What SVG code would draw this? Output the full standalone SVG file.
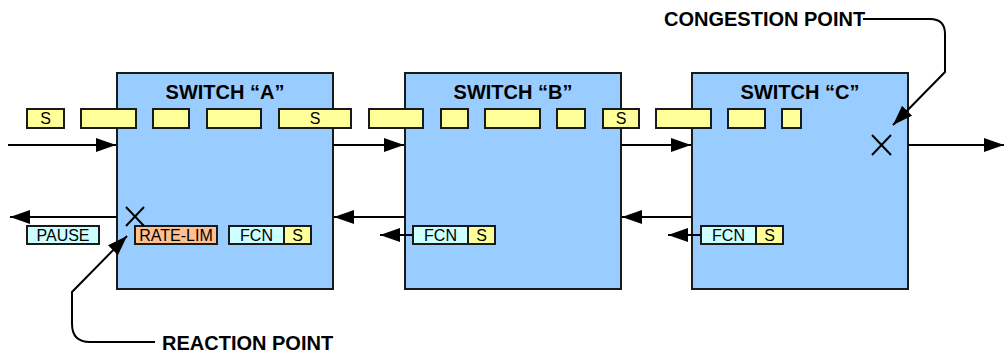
<svg xmlns="http://www.w3.org/2000/svg" width="1005" height="352" viewBox="0 0 1005 352">
<style>
.sw{fill:#99CCFF;stroke:#1a1a1a;stroke-width:2}
.pk{fill:#FFFF99;stroke:#1a1a1a;stroke-width:2}
.cy{fill:#CCFFFF;stroke:#1a1a1a;stroke-width:2}
.or{fill:#FFBF8F;stroke:#1a1a1a;stroke-width:2}
.ln{fill:none;stroke:#000;stroke-width:2}
.t{font-family:"Liberation Sans",Arial,sans-serif;font-size:16px;fill:#000;text-anchor:middle}
.h{font-family:"Liberation Sans",Arial,sans-serif;font-size:20px;font-weight:bold;fill:#000}
.x{stroke:#000;stroke-width:2}
</style>
<defs>
<marker id="ab" markerWidth="20" markerHeight="14" refX="20" refY="7" orient="auto" markerUnits="userSpaceOnUse" viewBox="0 0 20 14"><path d="M0,0 L20,7 L0,14 z" fill="#000"/></marker>
</defs>
<g id="switch-a"><rect class="sw" x="117" y="73" width="216" height="216"/><text class="h" x="225" y="99" text-anchor="middle">SWITCH “A”</text></g>
<g id="switch-b"><rect class="sw" x="405" y="73" width="216" height="216"/><text class="h" x="513" y="99" text-anchor="middle">SWITCH “B”</text></g>
<g id="switch-c"><rect class="sw" x="692" y="73" width="216" height="216"/><text class="h" x="800" y="99" text-anchor="middle">SWITCH “C”</text></g>
<g id="connectors">
<line class="ln" x1="8" y1="145" x2="116" y2="145" marker-end="url(#ab)"/>
<line class="ln" x1="333" y1="145" x2="404" y2="145" marker-end="url(#ab)"/>
<line class="ln" x1="621" y1="145" x2="691" y2="145" marker-end="url(#ab)"/>
<line class="ln" x1="908" y1="145" x2="1004" y2="145" marker-end="url(#ab)"/>
<line class="ln" x1="117" y1="217" x2="10" y2="217" marker-end="url(#ab)"/>
<line class="ln" x1="405" y1="217" x2="334" y2="217" marker-end="url(#ab)"/>
<line class="ln" x1="692" y1="217" x2="622" y2="217" marker-end="url(#ab)"/>
<line class="ln" x1="413" y1="235" x2="380" y2="235" marker-end="url(#ab)"/>
<line class="ln" x1="701" y1="235" x2="668" y2="235" marker-end="url(#ab)"/>
<path class="ln" d="M863,19 H930 Q945,19 945,34 V72 L893,125" marker-end="url(#ab)"/>
<path class="ln" d="M155,342 H90 Q72,342 72,324 V292 L127,236" marker-end="url(#ab)"/>
</g>
<g id="packets">
<rect class="pk" x="27" y="109" width="37" height="19"/><text class="t" x="45.5" y="124">S</text>
<rect class="pk" x="81" y="109" width="55" height="19"/>
<rect class="pk" x="153" y="109" width="36" height="19"/>
<rect class="pk" x="207" y="109" width="54" height="19"/>
<rect class="pk" x="279" y="109" width="72" height="19"/><text class="t" x="315" y="124">S</text>
<rect class="pk" x="369" y="109" width="54" height="19"/>
<rect class="pk" x="441" y="109" width="27" height="19"/>
<rect class="pk" x="485" y="109" width="55" height="19"/>
<rect class="pk" x="557" y="109" width="28" height="19"/>
<rect class="pk" x="603" y="109" width="36" height="19"/><text class="t" x="621" y="124">S</text>
<rect class="pk" x="656" y="109" width="55" height="19"/>
<rect class="pk" x="728" y="109" width="37" height="19"/>
<rect class="pk" x="782" y="109" width="19" height="19"/>
</g>
<g id="pause"><rect class="cy" x="27" y="226" width="72" height="18"/><text class="t" x="63" y="241">PAUSE</text></g>
<g id="rate-lim"><rect class="or" x="135" y="226" width="82" height="18"/><text class="t" x="176" y="241">RATE-LIM</text></g>
<g id="fcn-a"><rect class="cy" x="229" y="226" width="55" height="18"/><text class="t" x="256.5" y="241">FCN</text><rect class="pk" x="284" y="226" width="27" height="18"/><text class="t" x="297.5" y="241">S</text></g>
<g id="fcn-b"><rect class="cy" x="413" y="226" width="55" height="18"/><text class="t" x="440.5" y="241">FCN</text><rect class="pk" x="468" y="226" width="27" height="18"/><text class="t" x="481.5" y="241">S</text></g>
<g id="fcn-c"><rect class="cy" x="701" y="226" width="55" height="18"/><text class="t" x="728.5" y="241">FCN</text><rect class="pk" x="756" y="226" width="27" height="18"/><text class="t" x="769.5" y="241">S</text></g>
<g id="x-reaction"><line class="x" x1="126" y1="207" x2="144" y2="226"/><line class="x" x1="144" y1="207" x2="126" y2="226"/></g>
<g id="x-congestion"><line class="x" x1="872" y1="135" x2="891" y2="155"/><line class="x" x1="891" y1="135" x2="872" y2="155"/></g>
<g id="label-congestion"><text class="h" x="664" y="26">CONGESTION POINT</text></g>
<g id="label-reaction"><text class="h" x="162" y="350">REACTION POINT</text></g>
</svg>
